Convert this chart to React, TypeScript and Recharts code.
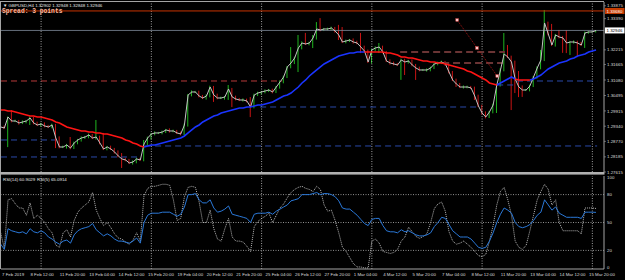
import React from "react";
import {
  ComposedChart,
  LineChart,
  Line,
  Bar,
  XAxis,
  YAxis,
  ReferenceLine,
  ReferenceDot,
} from "recharts";

// ---------- DATA (H4 bars, index 1 = 7 Feb 2019 04:00) ----------
const FIRST_OPEN = 1.2935;

const CLOSE = [
  1.29311, 1.29273, 1.29687, 1.29536, 1.29536, 1.29461, 1.29499, 1.29536, 1.29649, 1.29461,
  1.29386, 1.29423, 1.29348, 1.29311, 1.29386, 1.28896, 1.28557, 1.28557, 1.28633, 1.2852,
  1.28708, 1.28821, 1.28896, 1.28934, 1.29009, 1.28896, 1.28934, 1.28708, 1.28482, 1.28557,
  1.28482, 1.28369, 1.28219, 1.28106, 1.28068, 1.27955, 1.27993, 1.28106, 1.28068, 1.2867,
  1.28896, 1.29047, 1.29085, 1.29085, 1.29122, 1.29198, 1.2916, 1.2916, 1.29085, 1.29047,
  1.29386, 1.30515, 1.30628, 1.30628, 1.30477, 1.30402, 1.30477, 1.30816, 1.30515, 1.30402,
  1.30402, 1.3044, 1.30741, 1.3044, 1.30364, 1.30327, 1.30327, 1.30289, 1.30063, 1.30515,
  1.3059, 1.30628, 1.30666, 1.30703, 1.30628, 1.30816, 1.31005, 1.31193, 1.3157, 1.3172,
  1.31909, 1.32285, 1.32473, 1.32436, 1.32473, 1.32662, 1.33001, 1.32963, 1.33001, 1.33001,
  1.33038, 1.32925, 1.32775, 1.32511, 1.32549, 1.32586, 1.32511, 1.32473, 1.32323, 1.32172,
  1.31758, 1.3221, 1.32285, 1.32323, 1.32135, 1.31796, 1.3172, 1.31683, 1.31645, 1.31833,
  1.31758, 1.31796, 1.31645, 1.31532, 1.31457, 1.31457, 1.31457, 1.31532, 1.31683, 1.3172,
  1.31758, 1.31683, 1.31381, 1.3108, 1.30929, 1.30816, 1.30816, 1.30816, 1.30779, 1.30477,
  1.30101, 1.29837, 1.29687, 1.29875, 1.30138, 1.30892, 1.31457, 1.32059, 1.31946, 1.31758,
  1.31118, 1.30816, 1.30703, 1.30703, 1.30854, 1.31193, 1.31532, 1.31833, 1.33227, 1.32812,
  1.32398, 1.32775, 1.32699, 1.32662, 1.32473, 1.32511, 1.32511, 1.32473, 1.32398, 1.3285,
  1.32888, 1.32888, 1.32946,
];

const UPPER_WICK = [
  0.0004, 0.0005, 0.0002, 0.0026, 0.0005, 0.0004, 0.0006, 0.0004, 0.0005, 0.0004,
  0.0005, 0.0004, 0.0006, 0.0004, 0.0005, 0.0004, 0.0006, 0.0005, 0.0004, 0.003,
  0.0005, 0.0004, 0.0006, 0.0004, 0.0005, 0.0004, 0.0064, 0.0005, 0.0038, 0.0004,
  0.0005, 0.0004, 0.0006, 0.0011, 0.0005, 0.0004, 0.0006, 0.0005, 0.0004, 0.0015,
  0.0005, 0.0004, 0.0006, 0.0004, 0.0005, 0.0004, 0.0006, 0.0005, 0.0004, 0.0005,
  0.0005, 0.0004, 0.0006, 0.0004, 0.0005, 0.0004, 0.0006, 0.0005, 0.0004, 0.0005,
  0.0005, 0.0004, 0.0015, 0.0004, 0.0005, 0.0004, 0.0006, 0.0005, 0.0015, 0.0005,
  0.0005, 0.0004, 0.0006, 0.0004, 0.0005, 0.0004, 0.0006, 0.0005, 0.0004, 0.006,
  0.0005, 0.0049, 0.0006, 0.0038, 0.0005, 0.0011, 0.0026, 0.0041, 0.0004, 0.0005,
  0.0005, 0.0004, 0.0023, 0.003, 0.0005, 0.0004, 0.0006, 0.0005, 0.0038, 0.0005,
  0.0005, 0.0004, 0.0006, 0.0015, 0.0005, 0.0004, 0.0006, 0.0005, 0.0004, 0.0005,
  0.0005, 0.0004, 0.0006, 0.0004, 0.0005, 0.0004, 0.0006, 0.0005, 0.0004, 0.0005,
  0.0005, 0.0004, 0.0006, 0.0004, 0.0005, 0.0004, 0.0006, 0.0005, 0.0004, 0.0005,
  0.0005, 0.0004, 0.0006, 0.0004, 0.0005, 0.0004, 0.0006, 0.0079, 0.0034, 0.0005,
  0.0005, 0.003, 0.0006, 0.0004, 0.0005, 0.0004, 0.0006, 0.0038, 0.0049, 0.0005,
  0.0038, 0.0004, 0.0019, 0.0004, 0.003, 0.0004, 0.0006, 0.0005, 0.0004, 0.0005,
  0.0003, 0.0002, 0.0001,
];

const LOWER_WICK = [
  0.0005, 0.0004, 0.0072, 0.0005, 0.0004, 0.0006, 0.0004, 0.0005, 0.0015, 0.0005,
  0.0004, 0.0006, 0.0005, 0.0004, 0.0005, 0.0038, 0.0005, 0.0004, 0.0006, 0.0005,
  0.0004, 0.0005, 0.0006, 0.0004, 0.0005, 0.0004, 0.0006, 0.0005, 0.0004, 0.0005,
  0.0004, 0.0006, 0.0005, 0.0034, 0.0005, 0.0004, 0.0006, 0.0005, 0.0004, 0.0005,
  0.0004, 0.0006, 0.0005, 0.0004, 0.0005, 0.0004, 0.0006, 0.0005, 0.0004, 0.0005,
  0.0004, 0.0006, 0.0005, 0.0004, 0.0005, 0.0004, 0.0006, 0.0005, 0.0026, 0.0005,
  0.0004, 0.0006, 0.0011, 0.0038, 0.0005, 0.0004, 0.0006, 0.0005, 0.0038, 0.0005,
  0.0004, 0.0006, 0.0005, 0.0004, 0.0005, 0.0004, 0.0006, 0.0005, 0.0004, 0.0005,
  0.0004, 0.0053, 0.0005, 0.0004, 0.0005, 0.0019, 0.0006, 0.0005, 0.0004, 0.0005,
  0.0004, 0.0006, 0.0019, 0.0004, 0.0005, 0.0004, 0.0006, 0.0005, 0.0023, 0.0005,
  0.0004, 0.0006, 0.0005, 0.0019, 0.0005, 0.0004, 0.0006, 0.0005, 0.0004, 0.0056,
  0.0049, 0.0006, 0.0005, 0.0045, 0.0005, 0.0004, 0.0006, 0.0005, 0.0004, 0.0005,
  0.0004, 0.0006, 0.0005, 0.0004, 0.0011, 0.0004, 0.0006, 0.0005, 0.0004, 0.0015,
  0.0004, 0.0006, 0.0005, 0.0004, 0.0005, 0.003, 0.0006, 0.0005, 0.0004, 0.0181,
  0.0053, 0.0038, 0.0026, 0.0004, 0.0005, 0.0004, 0.0006, 0.0005, 0.0004, 0.0005,
  0.0004, 0.0006, 0.0005, 0.0056, 0.0038, 0.0045, 0.0006, 0.0053, 0.0004, 0.0011,
  0.0003, 0.0002, 0.0002,
];

const MA = [
  1.2995, 1.2995, 1.29913, 1.29913, 1.29875, 1.29837, 1.298, 1.29762, 1.29724, 1.29724,
  1.29687, 1.29687, 1.29649, 1.29612, 1.29574, 1.29499, 1.29461, 1.29386, 1.29311, 1.29273,
  1.29235, 1.29198, 1.2916, 1.2916, 1.29122, 1.29122, 1.29085, 1.29085, 1.29047, 1.29047,
  1.29009, 1.28972, 1.28934, 1.28896, 1.28821, 1.28783, 1.28708, 1.2867, 1.28595, 1.28557,
  1.28595, 1.28633, 1.28633, 1.2867, 1.28708, 1.28746, 1.28783, 1.28821, 1.28859, 1.28896,
  1.28972, 1.29085, 1.29198, 1.29311, 1.29386, 1.29499, 1.29574, 1.29649, 1.29724, 1.29762,
  1.29837, 1.29875, 1.29913, 1.2995, 1.29988, 1.30026, 1.30026, 1.30063, 1.30063, 1.30101,
  1.30138, 1.30138, 1.30176, 1.30214, 1.30251, 1.30327, 1.30402, 1.30477, 1.30515, 1.3059,
  1.30703, 1.30816, 1.30967, 1.3108, 1.31231, 1.31344, 1.31457, 1.3157, 1.31683, 1.31758,
  1.31833, 1.31909, 1.31984, 1.32022, 1.32059, 1.32097, 1.32097, 1.32135, 1.32135, 1.32135,
  1.32135, 1.32135, 1.32135, 1.32135, 1.32135, 1.32097, 1.32097, 1.32059, 1.32022, 1.31946,
  1.31946, 1.31909, 1.31909, 1.31871, 1.31833, 1.31796, 1.31796, 1.31758, 1.31758, 1.3172,
  1.3172, 1.31683, 1.31645, 1.31607, 1.3157, 1.31532, 1.31494, 1.31419, 1.31381, 1.31306,
  1.31231, 1.31155, 1.3108, 1.30967, 1.30929, 1.30892, 1.30967, 1.31042, 1.31118, 1.31193,
  1.31118, 1.3108, 1.3108, 1.3108, 1.3108, 1.31118, 1.31193, 1.31268, 1.31381, 1.31494,
  1.3157, 1.31645, 1.3172, 1.31758, 1.31796, 1.31871, 1.31909, 1.31984, 1.32022, 1.32059,
  1.32135, 1.32172, 1.3221,
];

// bar-index ranges where the MA is drawn red (price below MA) / blue
const MA_RED_RANGES = [[1, 40], [100, 136], [141, 145]];
const MA_BLUE_RANGES = [[40, 100], [136, 141], [145, 163]];

const RSI14 = [
  26.7, 21.1, 43.3, 41.1, 40.0, 38.9, 40.0, 37.8, 43.3, 40.0,
  38.9, 41.1, 38.9, 34.4, 32.2, 28.9, 26.7, 30.0, 31.1, 27.8,
  36.7, 41.1, 43.3, 44.4, 45.6, 48.9, 42.2, 38.9, 35.6, 37.8,
  35.6, 32.2, 30.0, 30.0, 28.9, 27.8, 30.0, 33.3, 27.8, 50.0,
  57.8, 60.0, 60.0, 60.0, 61.1, 61.1, 61.1, 58.9, 56.7, 58.9,
  66.7, 80.0, 80.0, 81.1, 74.4, 71.1, 71.1, 74.4, 65.6, 61.1,
  62.2, 64.4, 67.8, 58.9, 57.8, 56.7, 55.6, 54.4, 50.0, 58.9,
  60.0, 60.0, 60.0, 61.1, 58.9, 62.2, 64.4, 66.7, 68.9, 73.3,
  74.4, 75.6, 80.0, 80.0, 80.0, 81.1, 82.2, 80.0, 81.1, 81.1,
  80.0, 77.8, 73.3, 65.6, 64.4, 64.4, 61.1, 57.8, 53.3, 48.9,
  46.7, 53.3, 54.4, 54.4, 46.7, 41.1, 40.0, 40.0, 38.9, 42.2,
  40.0, 41.1, 38.9, 36.7, 35.6, 35.6, 36.7, 38.9, 45.6, 50.0,
  55.6, 54.4, 47.8, 41.1, 37.8, 34.4, 34.4, 34.4, 32.2, 27.8,
  23.3, 22.2, 23.3, 30.0, 38.9, 50.0, 58.9, 65.6, 63.3, 60.0,
  50.0, 45.6, 44.4, 45.6, 47.8, 52.2, 57.8, 61.1, 74.4, 68.9,
  63.3, 66.7, 60.0, 57.8, 55.6, 55.6, 55.6, 55.6, 54.4, 61.1,
  61.1, 61.1, 60.9029,
];

const RSI5 = [
  38.9, 22.2, 74.4, 75.6, 70.0, 65.6, 65.6, 57.8, 71.1, 54.4,
  57.8, 54.4, 50.0, 43.3, 38.9, 25.6, 23.3, 38.9, 42.2, 34.4,
  52.2, 61.1, 65.6, 68.9, 72.2, 82.2, 63.3, 54.4, 46.7, 50.0,
  44.4, 37.8, 33.3, 32.2, 28.9, 26.7, 31.1, 38.9, 30.0, 78.9,
  86.7, 88.9, 88.9, 90.0, 91.1, 91.1, 90.0, 74.4, 52.2, 54.4,
  77.8, 87.8, 88.9, 87.8, 72.2, 50.0, 50.0, 63.3, 43.3, 32.2,
  30.0, 43.3, 54.4, 34.4, 30.0, 30.0, 28.9, 24.4, 18.9, 45.6,
  51.1, 54.4, 56.7, 60.0, 50.0, 57.8, 65.6, 70.0, 76.7, 82.2,
  85.6, 87.8, 88.9, 86.7, 85.6, 83.3, 88.9, 85.6, 68.9, 62.2,
  63.3, 52.2, 38.9, 23.3, 18.9, 12.2, 5.6, 2.2, 2.2, 1.1,
  1.1, 30.0, 32.2, 27.8, 18.9, 17.8, 16.7, 17.8, 21.1, 30.0,
  34.4, 45.0, 40.0, 35.0, 33.0, 35.0, 38.0, 50.0, 65.0, 70.0,
  72.0, 62.0, 40.0, 30.0, 26.7, 27.8, 30.0, 26.7, 23.3, 18.9,
  14.4, 13.3, 15.6, 30.0, 46.7, 68.9, 83.3, 87.8, 74.4, 57.8,
  30.0, 23.3, 21.1, 25.6, 41.1, 57.8, 74.4, 83.3, 91.1, 85.6,
  68.9, 74.4, 50.0, 41.1, 41.1, 41.1, 41.1, 41.1, 37.8, 65.6,
  65.6, 65.6, 65.0914,
];

// horizontal dashed levels drawn on the chart (price, from bar, to bar)
const RESISTANCE_LEVELS = [
  { price: 1.31042, from: 1.09, to: 77.6 },
];
const ZONE_LEVELS = [
  { price: 1.32135, from: 109.7, to: 138.2 },
  { price: 1.3172, from: 121.1, to: 137.7 },
];
const SUPPORT_LEVELS = [
  { price: 1.28821, from: 1.09, to: 15.8 },
  { price: 1.28181, from: 1.09, to: 38.1 },
  { price: 1.28595, from: 40.3, to: 163.3 },
  { price: 1.30063, from: 71.6, to: 130.9 },
  { price: 1.30892, from: 136.1, to: 141.5 },
  { price: 1.31042, from: 141.5, to: 163.3 },
];
const TRENDLINE = [
  { x: 125.2, y: 1.33339 },
  { x: 130.6, y: 1.32285 },
  { x: 136.1, y: 1.3123 },
];
const ALERT_LEVEL = 1.3368;
const BID_LEVEL = 1.32946;

const PRICE_TICKS = [
  1.27615, 1.28185, 1.2877, 1.2934, 1.29915, 1.30495, 1.3108, 1.31665, 1.32215, 1.3339, 1.33875,
];
const RSI_TICKS = [0, 20, 50, 80, 100];
const RSI_LEVELS = [20, 50, 80];
const WEEK_SEPARATORS = [12, 42, 72, 102, 132, 162];
const TIME_TICKS = [1, 9, 17, 25, 33, 41, 49, 57, 65, 73, 81, 89, 97, 105, 113, 121, 129, 137, 145, 153, 161];
const TIME_LABELS = [
  "7 Feb 2019", "8 Feb 12:00", "11 Feb 20:00", "13 Feb 04:00", "14 Feb 12:00", "15 Feb 20:00",
  "19 Feb 04:00", "20 Feb 12:00", "21 Feb 20:00", "25 Feb 04:00", "26 Feb 12:00", "27 Feb 20:00",
  "1 Mar 04:00", "4 Mar 12:00", "5 Mar 20:00", "7 Mar 04:00", "8 Mar 12:00", "11 Mar 20:00",
  "13 Mar 04:00", "14 Mar 12:00", "15 Mar 20:00",
];

// ---------- derived table ----------
const inRanges = (i: number, ranges: number[][]) => ranges.some(([a, b]) => i >= a && i <= b);

const data = CLOSE.map((c, k) => {
  const i = k + 1;
  const open = k === 0 ? FIRST_OPEN : CLOSE[k - 1];
  const hi = Math.max(open, c) + UPPER_WICK[k];
  const lo = Math.min(open, c) - LOWER_WICK[k];
  return {
    i,
    close: c,
    wick: [lo, hi],
    up: c >= open,
    maRed: inRanges(i, MA_RED_RANGES) ? MA[k] : null,
    maBlue: inRanges(i, MA_BLUE_RANGES) ? MA[k] : null,
    rsi14: RSI14[k],
    rsi5: RSI5[k],
  };
});

// ---------- styling ----------
const X_DOMAIN: [number, number] = [1.088, 165.17];
const PRICE_DOMAIN: [number, number] = [1.27615, 1.34017];
const FONT = "'Liberation Sans', Arial, 'DejaVu Sans', sans-serif";
const GREEN = "#1fb41f";
const RED = "#c81414";
const FRAME = "#a4a4a4";
const TXT = "#dcdcdc";
const FS = 4.4;

function WickShape(props: any) {
  const { x, y, width, height, payload } = props;
  if (x == null || y == null || !payload) return null;
  const top = Math.min(y, y + (height || 0));
  const h = Math.max(Math.abs(height || 0), 1);
  const cx = x + (width || 0) / 2;
  return <rect x={cx - 0.5} y={top} width={1} height={h} fill={payload.up ? GREEN : RED} />;
}

function PriceTick(props: any) {
  const { x, y, payload } = props;
  return (
    <g>
      <line x1={x} x2={x + 2} y1={y} y2={y} stroke={FRAME} strokeWidth={0.6} />
      <text x={x + 3} y={y + 1.6} fontSize={FS} fill={TXT} fontFamily={FONT}>
        {Number(payload.value).toFixed(5)}
      </text>
    </g>
  );
}

function RsiTick(props: any) {
  const { x, y, payload } = props;
  const v = payload.value;
  const dy = v === 100 ? 3 : v === 0 ? -0.5 : 1.6;
  return (
    <text x={x + 3} y={y + dy} fontSize={FS} fill={TXT} fontFamily={FONT}>
      {v}
    </text>
  );
}

function TimeTick(props: any) {
  const { x, y, payload } = props;
  const idx = TIME_TICKS.indexOf(payload.value);
  return (
    <text x={x + (idx === 0 ? 1.3 : 0.3)} y={y + 6.5} fontSize={FS} fill={TXT} fontFamily={FONT}>
      {TIME_LABELS[idx]}
    </text>
  );
}

function PriceBox(props: any) {
  const { viewBox, text, fill, color } = props;
  if (!viewBox) return null;
  const x = viewBox.x + viewBox.width + 1;
  const y = viewBox.y;
  return (
    <g>
      <rect x={x} y={y - 3} width={19.5} height={6} fill={fill} />
      <text x={x + 1.5} y={y + 1.6} fontSize={FS} fill={color} fontFamily={FONT}>
        {text}
      </text>
    </g>
  );
}

function SquareMarker(props: any) {
  const { cx, cy } = props;
  if (cx == null || cy == null) return null;
  return <rect x={cx - 1.3} y={cy - 1.3} width={2.6} height={2.6} fill="#ffc8c8" stroke="#ff5050" strokeWidth={0.4} />;
}

export default function App() {
  return (
    <div style={{ position: "absolute", left: 0, top: 0, width: 625, height: 280, background: "#000", overflow: "hidden" }}>
      <div style={{ position: "absolute", left: 0, top: 0 }}>
        <ComposedChart width={625} height={175} data={data} margin={{ top: 2, right: 0, bottom: 3, left: 1 }}>
          <XAxis type="number" dataKey="i" domain={X_DOMAIN} allowDataOverflow hide />
          <YAxis
            orientation="right"
            type="number"
            width={21}
            domain={PRICE_DOMAIN}
            allowDataOverflow
            ticks={PRICE_TICKS}
            interval={0}
            tick={<PriceTick />}
            tickLine={false}
            tickSize={0}
            tickMargin={0}
            axisLine={{ stroke: FRAME }}
          />
          {WEEK_SEPARATORS.map((w) => (
            <ReferenceLine key={"w" + w} x={w} stroke="#c8c8c8" strokeDasharray="1 1.5" strokeWidth={0.8} />
          ))}
          <ReferenceLine y={ALERT_LEVEL} stroke="#c83200" strokeWidth={1} label={<PriceBox text="1.33680" fill="#c83c00" color="#ffffff" />} />
          <ReferenceLine y={BID_LEVEL} stroke="#7e8a9a" strokeWidth={0.8} label={<PriceBox text="1.32946" fill="#ffffff" color="#000000" />} />
          {RESISTANCE_LEVELS.map((l, k) => (
            <ReferenceLine key={"r" + k} segment={[{ x: l.from, y: l.price }, { x: l.to, y: l.price }]} stroke="#b83a3a" strokeWidth={1} strokeDasharray="6 4" ifOverflow="visible" />
          ))}
          {ZONE_LEVELS.map((l, k) => (
            <ReferenceLine key={"z" + k} segment={[{ x: l.from, y: l.price }, { x: l.to, y: l.price }]} stroke="#6a3434" strokeWidth={1.8} strokeDasharray="7 4" ifOverflow="visible" />
          ))}
          {SUPPORT_LEVELS.map((l, k) => (
            <ReferenceLine key={"s" + k} segment={[{ x: l.from, y: l.price }, { x: l.to, y: l.price }]} stroke="#2a48a8" strokeWidth={1} strokeDasharray="6 4" ifOverflow="visible" />
          ))}
          <Bar dataKey="wick" barSize={1} shape={<WickShape />} isAnimationActive={false} />
          <Line type="linear" dataKey="close" stroke="#c4c4c4" strokeWidth={1} dot={false} isAnimationActive={false} />
          <Line type="linear" dataKey="maBlue" stroke="#1a34ff" strokeWidth={1.6} dot={false} isAnimationActive={false} />
          <Line type="linear" dataKey="maRed" stroke="#ff1414" strokeWidth={1.6} dot={false} isAnimationActive={false} />
          <ReferenceLine segment={[TRENDLINE[0], TRENDLINE[2]]} stroke="#c01818" strokeWidth={0.8} strokeDasharray="1 1" ifOverflow="visible" />
          {TRENDLINE.map((p, k) => (
            <ReferenceDot key={"t" + k} x={p.x} y={p.y} r={1.3} shape={<SquareMarker />} ifOverflow="visible" />
          ))}
        </ComposedChart>
      </div>
      <div style={{ position: "absolute", left: 0, top: 172 }}>
        <LineChart width={625} height={108} data={data} margin={{ top: 4, right: 0, bottom: 0, left: 1 }}>
          <XAxis
            type="number"
            dataKey="i"
            domain={X_DOMAIN}
            allowDataOverflow
            ticks={TIME_TICKS}
            interval={0}
            tick={<TimeTick />}
            tickLine={false}
            tickSize={0}
            tickMargin={0}
            height={11}
            axisLine={{ stroke: FRAME }}
          />
          <YAxis
            orientation="right"
            type="number"
            width={21}
            domain={[0, 100]}
            allowDataOverflow
            ticks={RSI_TICKS}
            interval={0}
            tick={<RsiTick />}
            tickLine={false}
            tickSize={0}
            tickMargin={0}
            axisLine={{ stroke: FRAME }}
          />
          {RSI_LEVELS.map((v) => (
            <ReferenceLine key={"l" + v} y={v} stroke="#b4b4b4" strokeDasharray="1 1.5" strokeWidth={0.8} />
          ))}
          {WEEK_SEPARATORS.map((w) => (
            <ReferenceLine key={"w2" + w} x={w} stroke="#c8c8c8" strokeDasharray="1 1.5" strokeWidth={0.8} />
          ))}
          <Line type="linear" dataKey="rsi5" stroke="#c8c8c8" strokeWidth={0.9} strokeDasharray="1 1" dot={false} isAnimationActive={false} />
          <Line type="linear" dataKey="rsi14" stroke="#2a78d8" strokeWidth={1} dot={false} isAnimationActive={false} />
        </LineChart>
      </div>
      <svg width={625} height={280} style={{ position: "absolute", left: 0, top: 0, pointerEvents: "none" }}>
        <line x1={0} x2={604} y1={1.5} y2={1.5} stroke={FRAME} strokeWidth={1} />
        <line x1={0.5} x2={0.5} y1={1} y2={269} stroke={FRAME} strokeWidth={1} />
        <rect x={0} y={172} width={604.5} height={2.6} fill="#b0b0b0" />
        <text x={3} y={6.8} fontSize={FS} fill="#e8e8e8" fontFamily={FONT}>
          ▼ GBPUSD,H4  1.32902 1.32948 1.32848 1.32946
        </text>
        <text x={2} y={12.6} fontSize={6.3} fontWeight="bold" fill="#ffb89c" fontFamily="'Liberation Mono', 'DejaVu Sans Mono', monospace">
          Spread: 3 points
        </text>
        <text x={3} y={180.5} fontSize={FS} fill="#e8e8e8" fontFamily={FONT}>
          RSI(14) 60.9029
        </text>
        <text x={37} y={180.5} fontSize={FS} fill="#e8e8e8" fontFamily={FONT}>
          RSI(5) 65.0914
        </text>
      </svg>
    </div>
  );
}
